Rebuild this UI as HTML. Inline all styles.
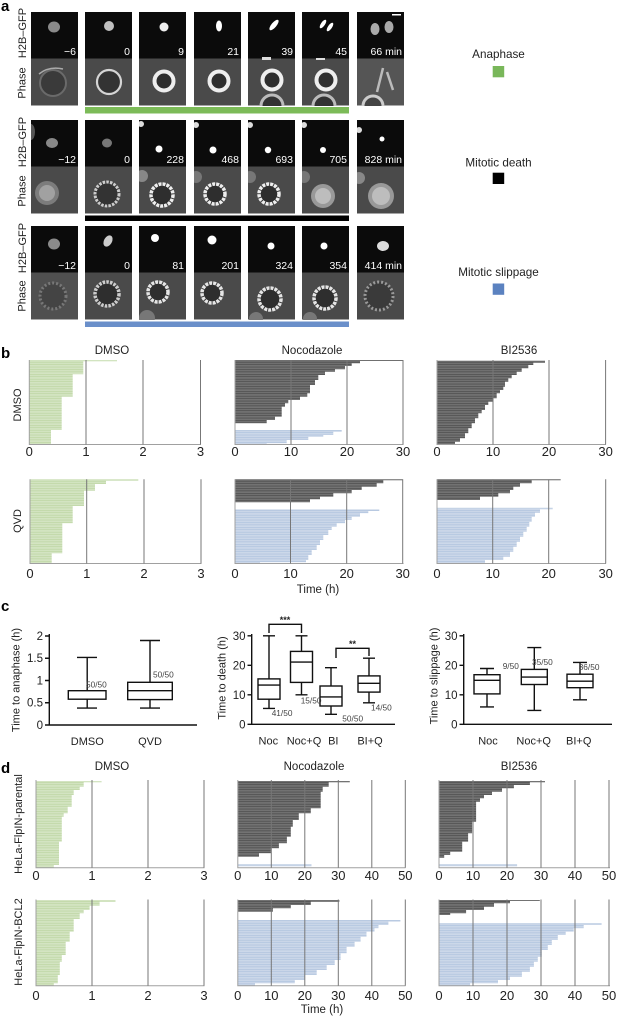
<!DOCTYPE html>
<html><head><meta charset="utf-8"><style>
html,body{margin:0;padding:0;background:#fff;}
svg{display:block;font-family:"Liberation Sans",Arial,sans-serif;}
.tl{fill:#fff;font-size:10.5px;text-anchor:end;}
.lab{fill:#222;font-size:11px;}
.pl{fill:#000;font-size:15px;font-weight:bold;}
.tk{fill:#222;font-size:13px;text-anchor:middle;}
.tt{fill:#222;font-size:11.5px;text-anchor:middle;}
.ct{fill:#222;font-size:11.5px;text-anchor:end;}
.cx{fill:#222;font-size:11px;text-anchor:middle;}
.cn{fill:#444;font-size:8.3px;}
.g{stroke:#777;stroke-width:1;fill:none;}
.ax{stroke:#a0a0a0;stroke-width:1;fill:none;}
.bx{stroke:#111;stroke-width:1.4;fill:none;}
</style></head><body>
<svg width="622" height="1024" viewBox="0 0 622 1024" xmlns="http://www.w3.org/2000/svg">
<defs>
<clipPath id="tc"><rect width="47" height="94"/></clipPath>
<pattern id="pG" patternUnits="userSpaceOnUse" width="10" height="1.7"><rect width="10" height="1.7" fill="#e6f0dc"/><rect width="10" height="1.25" fill="#c3daac"/></pattern>
<pattern id="pK" patternUnits="userSpaceOnUse" width="10" height="1.7"><rect width="10" height="1.7" fill="#929292"/><rect width="10" height="1.25" fill="#575757"/></pattern>
<pattern id="pB" patternUnits="userSpaceOnUse" width="10" height="1.7"><rect width="10" height="1.7" fill="#e2e9f3"/><rect width="10" height="1.25" fill="#b8c9e1"/></pattern>
</defs>

<!-- ===== Panel a ===== -->
<text class="pl" x="1" y="11">a</text>
<text class="lab" transform="translate(26,33) rotate(-90)" text-anchor="middle">H2B–GFP</text>
<text class="lab" transform="translate(25.5,83) rotate(-90)" text-anchor="middle">Phase</text>
<text class="lab" transform="translate(26,142) rotate(-90)" text-anchor="middle">H2B–GFP</text>
<text class="lab" transform="translate(25.5,191) rotate(-90)" text-anchor="middle">Phase</text>
<text class="lab" transform="translate(26,248) rotate(-90)" text-anchor="middle">H2B–GFP</text>
<text class="lab" transform="translate(25.5,296) rotate(-90)" text-anchor="middle">Phase</text>

<!-- Row 1 -->
<g transform="translate(31,12)" clip-path="url(#tc)"><rect width="47" height="46.5" fill="#0b0b0b"/><rect y="46.5" width="47" height="47" fill="#4a4a4a"/>
<ellipse cx="23" cy="15" rx="6" ry="5.5" fill="#8a8a8a"/><circle cx="22" cy="71" r="13" fill="#3a3a3a" stroke="#6a6a6a" stroke-width="2"/><path d="M8,62 Q18,54 32,57" stroke="#aaa" stroke-width="1.5" fill="none"/><text class="tl" x="45" y="43">−6</text></g>
<g transform="translate(85,12)" clip-path="url(#tc)"><rect width="47" height="46.5" fill="#0b0b0b"/><rect y="46.5" width="47" height="47" fill="#4a4a4a"/>
<circle cx="24" cy="14" r="5" fill="#c0c0c0"/><circle cx="24" cy="70" r="12" fill="#333" stroke="#d5d5d5" stroke-width="2.2"/><text class="tl" x="45" y="43">0</text></g>
<g transform="translate(139,12)" clip-path="url(#tc)"><rect width="47" height="46.5" fill="#0b0b0b"/><rect y="46.5" width="47" height="47" fill="#4a4a4a"/>
<circle cx="25" cy="15" r="4.5" fill="#eee"/><circle cx="25" cy="69" r="9.5" fill="#2e2e2e" stroke="#eee" stroke-width="4"/><text class="tl" x="45" y="43">9</text></g>
<g transform="translate(194,12)" clip-path="url(#tc)"><rect width="47" height="46.5" fill="#0b0b0b"/><rect y="46.5" width="47" height="47" fill="#4a4a4a"/>
<ellipse cx="25" cy="14" rx="3" ry="5.5" fill="#fff"/><circle cx="25" cy="69" r="9.5" fill="#2e2e2e" stroke="#eee" stroke-width="4"/><text class="tl" x="45" y="43">21</text></g>
<g transform="translate(248,12)" clip-path="url(#tc)"><rect width="47" height="46.5" fill="#0b0b0b"/><rect y="46.5" width="47" height="47" fill="#4a4a4a"/>
<ellipse cx="26" cy="13" rx="2.5" ry="6.5" fill="#fff" transform="rotate(40 26 13)"/><circle cx="24" cy="68" r="9.5" fill="#2e2e2e" stroke="#eee" stroke-width="4"/><circle cx="24" cy="94" r="11" fill="#333" stroke="#bbb" stroke-width="3"/><rect x="14" y="45" width="9" height="3" fill="#ddd"/><text class="tl" x="45" y="43">39</text></g>
<g transform="translate(302,12)" clip-path="url(#tc)"><rect width="47" height="46.5" fill="#0b0b0b"/><rect y="46.5" width="47" height="47" fill="#4a4a4a"/>
<ellipse cx="21" cy="12" rx="2" ry="5" fill="#fff" transform="rotate(35 21 12)"/><ellipse cx="28" cy="15" rx="2" ry="5" fill="#fff" transform="rotate(35 28 15)"/><circle cx="24" cy="68" r="9.5" fill="#2e2e2e" stroke="#eee" stroke-width="4"/><circle cx="22" cy="94" r="11" fill="#333" stroke="#bbb" stroke-width="3"/><rect x="14" y="46" width="9" height="2" fill="#ddd"/><text class="tl" x="45" y="43">45</text></g>
<g transform="translate(357,12)" clip-path="url(#tc)"><rect width="47" height="46.5" fill="#0b0b0b"/><rect y="46.5" width="47" height="47" fill="#555"/>
<ellipse cx="18" cy="17" rx="4.5" ry="6" fill="#aaa"/><ellipse cx="32" cy="15" rx="4.5" ry="6" fill="#aaa"/><rect x="35" y="2" width="9" height="1.5" fill="#fff"/><path d="M26,56 L20,80 M30,60 L36,78" stroke="#bbb" stroke-width="2.5"/><circle cx="16" cy="94" r="10" fill="#444" stroke="#ccc" stroke-width="3"/><text class="tl" x="45" y="43">66 min</text></g>
<rect x="85" y="107" width="264" height="6.5" fill="#7cbb58"/>

<!-- Row 2 -->
<g transform="translate(31,120)" clip-path="url(#tc)"><rect width="47" height="46.5" fill="#0b0b0b"/><rect y="46.5" width="47" height="47" fill="#4a4a4a"/>
<ellipse cx="21" cy="23" rx="6" ry="5" fill="#888"/><ellipse cx="0" cy="12" rx="4" ry="8" fill="#555"/><circle cx="16" cy="73" r="12" fill="#888" opacity="0.8"/><circle cx="16" cy="73" r="8" fill="#bbb" opacity="0.6"/><text class="tl" x="45" y="43">−12</text></g>
<g transform="translate(85,120)" clip-path="url(#tc)"><rect width="47" height="46.5" fill="#0b0b0b"/><rect y="46.5" width="47" height="47" fill="#4a4a4a"/>
<ellipse cx="22" cy="23" rx="5" ry="4.5" fill="#777"/><circle cx="22" cy="74" r="12" fill="#333" stroke="#ccc" stroke-width="3" stroke-dasharray="2.5 1.2"/><text class="tl" x="45" y="43">0</text></g>
<g transform="translate(139,120)" clip-path="url(#tc)"><rect width="47" height="46.5" fill="#0b0b0b"/><rect y="46.5" width="47" height="47" fill="#4a4a4a"/>
<circle cx="20" cy="29" r="3.5" fill="#fff"/><circle cx="2" cy="4" r="3" fill="#ddd"/><circle cx="23" cy="75" r="11" fill="#2e2e2e" stroke="#eee" stroke-width="3.5" stroke-dasharray="3 1"/><circle cx="3" cy="56" r="6" fill="#888"/><text class="tl" x="45" y="43">228</text></g>
<g transform="translate(194,120)" clip-path="url(#tc)"><rect width="47" height="46.5" fill="#0b0b0b"/><rect y="46.5" width="47" height="47" fill="#4a4a4a"/>
<circle cx="19" cy="30" r="3.5" fill="#fff"/><circle cx="2" cy="5" r="3" fill="#ddd"/><circle cx="21" cy="74" r="10" fill="#2e2e2e" stroke="#eee" stroke-width="3.5" stroke-dasharray="3 1"/><circle cx="2" cy="57" r="6" fill="#777"/><text class="tl" x="45" y="43">468</text></g>
<g transform="translate(248,120)" clip-path="url(#tc)"><rect width="47" height="46.5" fill="#0b0b0b"/><rect y="46.5" width="47" height="47" fill="#4a4a4a"/>
<circle cx="20" cy="30" r="3.2" fill="#fff"/><circle cx="2" cy="5" r="3" fill="#ddd"/><circle cx="21" cy="74" r="10" fill="#2e2e2e" stroke="#eee" stroke-width="3.5" stroke-dasharray="3 1"/><circle cx="2" cy="57" r="6" fill="#777"/><text class="tl" x="45" y="43">693</text></g>
<g transform="translate(302,120)" clip-path="url(#tc)"><rect width="47" height="46.5" fill="#0b0b0b"/><rect y="46.5" width="47" height="47" fill="#4a4a4a"/>
<circle cx="21" cy="30" r="3" fill="#fff"/><circle cx="2" cy="5" r="3" fill="#ddd"/><circle cx="21" cy="76" r="12" fill="#999"/><circle cx="21" cy="76" r="8" fill="#ccc" opacity="0.7"/><circle cx="2" cy="57" r="6" fill="#777"/><text class="tl" x="45" y="43">705</text></g>
<g transform="translate(357,120)" clip-path="url(#tc)"><rect width="47" height="46.5" fill="#0b0b0b"/><rect y="46.5" width="47" height="47" fill="#4a4a4a"/>
<circle cx="25" cy="19" r="2.5" fill="#fff"/><circle cx="2" cy="10" r="3" fill="#ddd"/><circle cx="24" cy="76" r="13" fill="#999"/><circle cx="24" cy="76" r="9" fill="#ccc" opacity="0.7"/><circle cx="2" cy="58" r="6" fill="#888"/><text class="tl" x="45" y="43">828 min</text></g>
<rect x="85" y="215.5" width="264" height="5.5" fill="#000"/>

<!-- Row 3 -->
<g transform="translate(31,226)" clip-path="url(#tc)"><rect width="47" height="46.5" fill="#0b0b0b"/><rect y="46.5" width="47" height="47" fill="#505050"/>
<ellipse cx="23" cy="18" rx="6" ry="5.5" fill="#8a8a8a"/><circle cx="22" cy="70" r="13" fill="#444" stroke="#777" stroke-width="3" stroke-dasharray="2 2"/><text class="tl" x="45" y="43">−12</text></g>
<g transform="translate(85,226)" clip-path="url(#tc)"><rect width="47" height="46.5" fill="#0b0b0b"/><rect y="46.5" width="47" height="47" fill="#4a4a4a"/>
<ellipse cx="23" cy="15" rx="4" ry="6" fill="#ccc" transform="rotate(30 23 15)"/><circle cx="22" cy="68" r="12" fill="#2e2e2e" stroke="#ccc" stroke-width="3.5" stroke-dasharray="2.5 1.2"/><text class="tl" x="45" y="43">0</text></g>
<g transform="translate(139,226)" clip-path="url(#tc)"><rect width="47" height="46.5" fill="#0b0b0b"/><rect y="46.5" width="47" height="47" fill="#4a4a4a"/>
<circle cx="16" cy="12" r="4" fill="#fff"/><circle cx="19" cy="66" r="10" fill="#2e2e2e" stroke="#e5e5e5" stroke-width="3.5" stroke-dasharray="3 1"/><circle cx="8" cy="92" r="8" fill="#777"/><text class="tl" x="45" y="43">81</text></g>
<g transform="translate(194,226)" clip-path="url(#tc)"><rect width="47" height="46.5" fill="#0b0b0b"/><rect y="46.5" width="47" height="47" fill="#4a4a4a"/>
<circle cx="18" cy="14" r="4.5" fill="#fff"/><circle cx="18" cy="67" r="10" fill="#2e2e2e" stroke="#e5e5e5" stroke-width="3.5" stroke-dasharray="3 1"/><text class="tl" x="45" y="43">201</text></g>
<g transform="translate(248,226)" clip-path="url(#tc)"><rect width="47" height="46.5" fill="#0b0b0b"/><rect y="46.5" width="47" height="47" fill="#4a4a4a"/>
<circle cx="23" cy="20" r="3.5" fill="#fff"/><circle cx="22" cy="73" r="11" fill="#2e2e2e" stroke="#e5e5e5" stroke-width="3.5" stroke-dasharray="3 1"/><circle cx="8" cy="93" r="7" fill="#777"/><text class="tl" x="45" y="43">324</text></g>
<g transform="translate(302,226)" clip-path="url(#tc)"><rect width="47" height="46.5" fill="#0b0b0b"/><rect y="46.5" width="47" height="47" fill="#4a4a4a"/>
<circle cx="22" cy="20" r="3.5" fill="#fff"/><circle cx="23" cy="72" r="11" fill="#2e2e2e" stroke="#e5e5e5" stroke-width="3.5" stroke-dasharray="3 1"/><circle cx="8" cy="93" r="7" fill="#777"/><text class="tl" x="45" y="43">354</text></g>
<g transform="translate(357,226)" clip-path="url(#tc)"><rect width="47" height="46.5" fill="#0b0b0b"/><rect y="46.5" width="47" height="47" fill="#4a4a4a"/>
<ellipse cx="26" cy="20" rx="6" ry="5" fill="#ddd"/><circle cx="22" cy="70" r="14" fill="#3a3a3a" stroke="#999" stroke-width="3" stroke-dasharray="2 2"/><text class="tl" x="45" y="43">414 min</text></g>
<rect x="85" y="321.5" width="264" height="5.5" fill="#6a8fca"/>

<!-- Legend -->
<text x="498.5" y="58" font-size="11.7" fill="#222" text-anchor="middle">Anaphase</text>
<rect x="492.7" y="66" width="11.5" height="11.3" fill="#79b75a"/>
<text x="498.5" y="166.5" font-size="11.7" fill="#222" text-anchor="middle">Mitotic death</text>
<rect x="492.7" y="172.7" width="11.5" height="11.3" fill="#000"/>
<text x="498.5" y="276" font-size="11.7" fill="#222" text-anchor="middle">Mitotic slippage</text>
<rect x="492.7" y="283.5" width="11.5" height="11.3" fill="#5b82c0"/>

<!-- ===== Panel b ===== -->
<text class="pl" x="1" y="358">b</text>
<text class="tt" x="112" y="354">DMSO</text>
<text class="tt" x="312" y="354">Nocodazole</text>
<text class="tt" x="519" y="354">BI2536</text>
<text class="lab" font-size="12" transform="translate(21,405) rotate(-90)" text-anchor="middle">DMSO</text>
<text class="lab" font-size="12" transform="translate(21,521) rotate(-90)" text-anchor="middle">QVD</text>

<path fill="url(#pG)" d="M29.3,360H117V361.2H83.3V374.3H72.7V396.7H61.7V430H51V444H29.3Z"/>
<path fill="url(#pK)" d="M235,360H402.7V361H360V363.3H351.7V366H345V369.3H335V371.7H325V375H318.3V380H315V385H310V393.3H307.3V396.7H300V400H288.3V403.3H285V406.7H281.7V416.7H275V420H266.7V423.3H235Z"/>
<path fill="url(#pB)" d="M235,430H341.7V431.7H333.3V435H323.3V436.7H308.3V440H286.7V443.3H266.7V444.5H235Z"/>
<path fill="url(#pK)" d="M437,360.7H545V362.7H533.3V365H528.3V368.3H521.7V371.7H516.7V375H511.7V378.3H508.3V381.7H505V386.7H503.3V390H500V393.3H496.7V398.3H493.3V401.7H488.3V405H485V410H481.7V413.3H478.3V418.3H475V423.3H471.7V428.3H468.3V433.3H465V438.3H460V441.7H455V444.3H437Z"/>
<path class="ax" d="M29.3,360V444.5H201M235,360V444.5H403.5M437,360V444.5H606"/>
<path class="g" d="M86,360V444.5M143,360V444.5M200.5,360V444.5M291,360V444.5M347,360V444.5M403,360V444.5M493,360V444.5M549,360V444.5M605.6,360V444.5"/>
<g class="tk">
<text x="29.3" y="456">0</text><text x="86" y="456">1</text><text x="143" y="456">2</text><text x="200.5" y="456">3</text>
<text x="235" y="456">0</text><text x="291" y="456">10</text><text x="347" y="456">20</text><text x="403" y="456">30</text>
<text x="437" y="456">0</text><text x="493" y="456">10</text><text x="549" y="456">20</text><text x="605.6" y="456">30</text>
</g>

<path fill="url(#pG)" d="M30,479.3H138.3V480.7H106V484H95V490.7H84V506H72.7V523.3H62.3V553.3H51.7V563H30Z"/>
<path fill="url(#pK)" d="M235,479.3H402.7V480.3H383.3V483.3H376.7V486.7H361.7V490H351.7V493.3H333.3V496.7H320V499.3H310V502.3H235Z"/>
<path fill="url(#pB)" d="M235,509.3H379.3V511H368.3V513.3H360V516.7H351.7V520H345V523.3H336.7V526.7H331.7V530H328.3V535H323.3V540H320V545H316.7V550H311.7V555H308.3V560H306V562.3H260V563.3H235Z"/>
<path fill="url(#pK)" d="M437,479.3H560.7V480.3H531.7V483.3H520V486.7H513.3V490H510V493.3H498.3V496.7H480V500H437Z"/>
<path fill="url(#pB)" d="M437,507.7H552.7V509.3H540V512.7H535V516.7H531.7V521.7H529.3V526.7H526.7V531.7H523.3V536.7H520V541.7H516.7V546.7H513.3V551.7H510V556.7H503.3V560H485V563.3H437Z"/>
<path class="ax" d="M30,479.3V563.5H201.5M235,479.3V563.5H403.5M437,479.3V563.5H606"/>
<path class="g" d="M86.7,479.3V563.5M144,479.3V563.5M201,479.3V563.5M290.5,479.3V563.5M346.7,479.3V563.5M402.7,479.3V563.5M492.7,479.3V563.5M548.7,479.3V563.5M605.7,479.3V563.5"/>
<g class="tk">
<text x="30" y="578">0</text><text x="86.7" y="578">1</text><text x="144" y="578">2</text><text x="201" y="578">3</text>
<text x="235" y="578">0</text><text x="290.5" y="578">10</text><text x="346.7" y="578">20</text><text x="402.7" y="578">30</text>
<text x="437" y="578">0</text><text x="492.7" y="578">10</text><text x="548.7" y="578">20</text><text x="605.7" y="578">30</text>
</g>
<text class="tt" x="318" y="593">Time (h)</text>

<!-- ===== Panel c ===== -->
<text class="pl" x="1" y="611">c</text>
<text class="lab" transform="translate(19.5,680) rotate(-90)" text-anchor="middle">Time to anaphase (h)</text>
<path class="bx" d="M49.3,634V725H197M45,725H49.3M45,702.75H49.3M45,680.5H49.3M45,658.25H49.3M45,636H49.3"/>
<g class="ct"><text x="43" y="729">0</text><text x="43" y="706.7">0.5</text><text x="43" y="684.5">1</text><text x="43" y="662.2">1.5</text><text x="43" y="640">2</text></g>
<path class="bx" d="M87.2,657.4V690.7M87.2,699.2V708.1M77,657.4H97M77,708.1H97"/>
<rect class="bx" x="68.3" y="690.7" width="37.7" height="8.5"/>
<path class="bx" d="M150,640.5V682.3M150,699.6V708.1M140,640.5H160M140,708.1H160M127.7,690.7H172.3"/>
<rect class="bx" x="127.7" y="682.3" width="44.6" height="17.3"/>
<text class="cn" x="86" y="687.3">50/50</text>
<text class="cn" x="153" y="677.7">50/50</text>
<text class="cx" x="87.3" y="745">DMSO</text><text class="cx" x="150" y="745">QVD</text>

<text class="lab" transform="translate(225.5,678) rotate(-90)" text-anchor="middle">Time to death (h)</text>
<path class="bx" d="M251.7,634V724.3H395M247.5,724.3H251.7M247.5,694.8H251.7M247.5,665.3H251.7M247.5,635.8H251.7"/>
<g class="ct"><text x="245.5" y="728.3">0</text><text x="245.5" y="698.8">10</text><text x="245.5" y="669.3">20</text><text x="245.5" y="639.8">30</text></g>
<path class="bx" d="M269,635.8V678.9M269,699.2V708.4M263,635.8H275M263,708.4H275M258,685.1H280"/>
<rect class="bx" x="258" y="678.9" width="22" height="20.3"/>
<path class="bx" d="M301.5,635.8V651.4M301.5,682.4V694.8M295.5,635.8H307.5M295.5,694.8H307.5M290.5,662.1H312.5"/>
<rect class="bx" x="290.5" y="651.4" width="22" height="31"/>
<path class="bx" d="M331,667.7V686M331,706V714.3M325,667.7H337M325,714.3H337M320,696.9H342"/>
<rect class="bx" x="320" y="686" width="22" height="20"/>
<path class="bx" d="M369,658.2V675.9M369,692.1V702.8M363,658.2H375M363,702.8H375M358,683.3H380"/>
<rect class="bx" x="358" y="675.9" width="22" height="16.2"/>
<path class="bx" d="M269,633V624.3H301.5V633M336,658V648.3H369V656"/>
<text x="285" y="623" font-size="9" font-weight="bold" fill="#222" text-anchor="middle">***</text>
<text x="352.5" y="647" font-size="9" font-weight="bold" fill="#222" text-anchor="middle">**</text>
<text class="cn" x="271.7" y="716">41/50</text>
<text class="cn" x="300.7" y="703.3">15/50</text>
<text class="cn" x="342.3" y="721.7">50/50</text>
<text class="cn" x="371" y="710.7">14/50</text>
<text class="cx" x="268.3" y="744.5">Noc</text><text class="cx" x="304" y="744.5">Noc+Q</text><text class="cx" x="333.3" y="744.5">BI</text><text class="cx" x="370" y="744.5">BI+Q</text>

<text class="lab" transform="translate(437.5,676) rotate(-90)" text-anchor="middle">Time to slippage (h)</text>
<path class="bx" d="M463.7,634V724.3H612M459.5,724.3H463.7M459.5,694.8H463.7M459.5,665.3H463.7M459.5,635.8H463.7"/>
<g class="ct"><text x="457.5" y="728.3">0</text><text x="457.5" y="698.8">10</text><text x="457.5" y="669.3">20</text><text x="457.5" y="639.8">30</text></g>
<path class="bx" d="M487,668.5V674.7M487,693.9V706.9M480,668.5H494M480,706.9H494M474,680.3H500"/>
<rect class="bx" x="474" y="674.7" width="26" height="19.2"/>
<path class="bx" d="M534.3,647.6V669.4M534.3,684.5V710.4M527.3,647.6H541.3M527.3,710.4H541.3M521.3,677.1H547.3"/>
<rect class="bx" x="521.3" y="669.4" width="26" height="15.1"/>
<path class="bx" d="M580,662.4V674.2M580,687.7V699.8M573,662.4H587M573,699.8H587M567,681.2H593"/>
<rect class="bx" x="567" y="674.2" width="26" height="13.5"/>
<text class="cn" x="502.7" y="669">9/50</text>
<text class="cn" x="532" y="665">35/50</text>
<text class="cn" x="578.7" y="670">36/50</text>
<text class="cx" x="488" y="744.5">Noc</text><text class="cx" x="533.7" y="744.5">Noc+Q</text><text class="cx" x="578.7" y="744.5">BI+Q</text>

<!-- ===== Panel d ===== -->
<text class="pl" x="1" y="773">d</text>
<text class="tt" x="112" y="770">DMSO</text>
<text class="tt" x="314" y="770">Nocodazole</text>
<text class="tt" x="519" y="770">BI2536</text>
<text class="lab" font-size="11.5" transform="translate(22,824) rotate(-90)" text-anchor="middle">HeLa-FlpIN-parental</text>
<text class="lab" font-size="11.5" transform="translate(22,942) rotate(-90)" text-anchor="middle">HeLa-FlpIN-BCL2</text>

<path fill="url(#pG)" d="M36,781H101.6V782.3H83.7V786.7H79.7V790H73.7V795H71.7V806.7H67.7V813.3H63.7V816.7H61.8V841.7H59V865H53.8V867.5H36Z"/>
<path fill="url(#pK)" d="M237.8,781H349.8V782.3H328.7V786.7H322.7V791.7H320.7V808.3H310.8V813.3H298.8V820H292.8V826.7H290.8V836.7H286.9V843.3H278.9V848.3H270.9V853.3H259V856.7H237.8Z"/>
<path fill="url(#pB)" d="M237.8,864.3H311.5V866.2H237.8Z"/>
<path fill="url(#pK)" d="M439,781H545V782.3H529.9V785H513.9V788.3H502V791.7H492V795H484V798.3H480V801.7H476.1V821.7H472.1V833.3H468.1V841.7H462.2V851.7H450.2V855H444.2V857.7H439Z"/>
<path fill="url(#pB)" d="M439,864.3H517.1V866.2H439Z"/>
<path class="ax" d="M36,780V867.7H204.5M237.8,780V867.7H405.5M439,780V867.7H610"/>
<path class="g" d="M92,780V867.7M148,780V867.7M204,780V867.7M271.3,780V867.7M304.8,780V867.7M338.3,780V867.7M371.8,780V867.7M405.3,780V867.7M473,780V867.7M507,780V867.7M541,780V867.7M575,780V867.7M609,780V867.7"/>
<g class="tk">
<text x="36" y="880">0</text><text x="92" y="880">1</text><text x="148" y="880">2</text><text x="204" y="880">3</text>
<text x="237.8" y="880">0</text><text x="271.3" y="880">10</text><text x="304.8" y="880">20</text><text x="338.3" y="880">30</text><text x="371.8" y="880">40</text><text x="405.3" y="880">50</text>
<text x="439" y="880">0</text><text x="473" y="880">10</text><text x="507" y="880">20</text><text x="541" y="880">30</text><text x="575" y="880">40</text><text x="609" y="880">50</text>
</g>

<path fill="url(#pG)" d="M36,900H115.5V901.7H99.6V905.7H89.6V910H83.7V913.3H79.7V919H73.7V931.7H69.7V941.7H65.7V955H61.8V961.7H59.8V975H57.8V983.3H53.8V985.5H36Z"/>
<path fill="url(#pK)" d="M237.8,900H339.4V901.7H310.8V905H290.8V908.3H272.9V911.7H237.8Z"/>
<path fill="url(#pB)" d="M237.8,920H400.4V921.7H388.4V925H378.5V928.3H374.5V931.7H366.5V936.7H360.6V941.7H354.6V946.7H346.6V953.3H340.6V960H334.7V965H326.7V970H316.7V975H304.8V980H294.8V983.3H255V985.5H237.8Z"/>
<path fill="url(#pK)" d="M439,900H539.8V901H510V903.3H494V906.7H484V910H466.1V913.3H450.2V915H439Z"/>
<path fill="url(#pB)" d="M439,923.3H601.6V925H583.7V928.3H573.7V931.7H565.7V935H557.8V940H551.8V945H547.8V950H541.8V956.7H537.8V961.7H533.9V966.7H529.9V971.7H521.9V976.7H510V980H498V983.3H470.1V985.5H439Z"/>
<path class="ax" d="M36,899.5V985.7H204.5M237.8,899.5V985.7H405.5M439,899.5V985.7H610"/>
<path class="g" d="M92,899.5V985.7M148,899.5V985.7M204,899.5V985.7M271.3,899.5V985.7M304.8,899.5V985.7M338.3,899.5V985.7M371.8,899.5V985.7M405.3,899.5V985.7M473,899.5V985.7M507,899.5V985.7M541,899.5V985.7M575,899.5V985.7M609,899.5V985.7"/>
<g class="tk">
<text x="36" y="1000">0</text><text x="92" y="1000">1</text><text x="148" y="1000">2</text><text x="204" y="1000">3</text>
<text x="237.8" y="1000">0</text><text x="271.3" y="1000">10</text><text x="304.8" y="1000">20</text><text x="338.3" y="1000">30</text><text x="371.8" y="1000">40</text><text x="405.3" y="1000">50</text>
<text x="439" y="1000">0</text><text x="473" y="1000">10</text><text x="507" y="1000">20</text><text x="541" y="1000">30</text><text x="575" y="1000">40</text><text x="609" y="1000">50</text>
</g>
<text class="tt" x="322" y="1013">Time (h)</text>
</svg>
</body></html>
